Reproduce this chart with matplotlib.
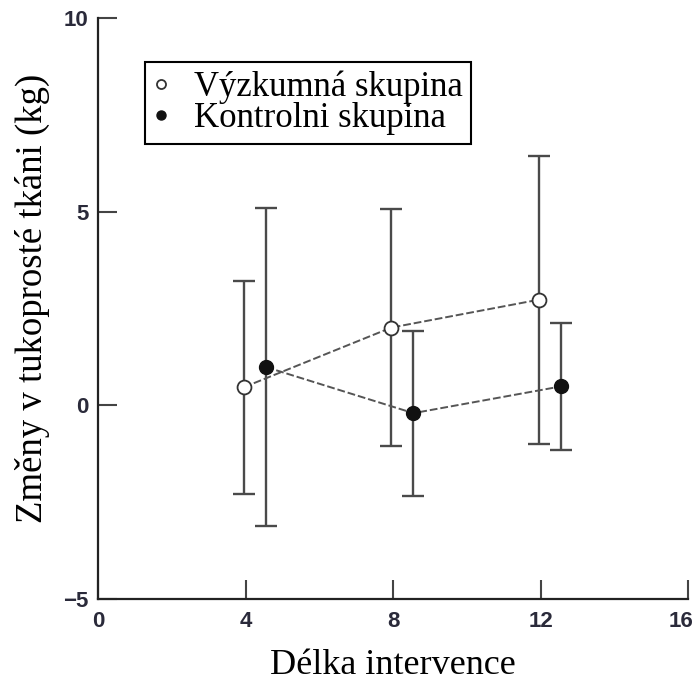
import numpy as np
import matplotlib
matplotlib.use('Agg')
import matplotlib.pyplot as plt
from matplotlib.transforms import ScaledTranslation

# values
weeks = [4, 8, 12]
shift = 0.5  # the control group is drawn a bit to the right
vyzkumna_mean = [0.47, 2.01, 2.73]
vyzkumna_err = [2.75, 3.07, 3.72]
kontrolni_mean = [0.99, -0.20, 0.49]
kontrolni_err = [4.10, 2.13, 1.65]
xticks = [0, 4, 8, 12, 16]
yticks = [-5, 0, 5, 10]
labels = ['Výzkumná skupina', 'Kontrolni skupina']

SERIF = ['Liberation Serif', 'DejaVu Serif']
SANS = ['Liberation Sans', 'DejaVu Sans']
plt.rcParams['font.family'] = SERIF

fig = plt.figure(figsize=(6.99, 6.84), dpi=100)
ax = fig.add_axes([0.1406, 0.1243, 0.8437, 0.849])

x_v = np.array(weeks) - 0.05
x_k = np.array(weeks) + shift + 0.05

# error bars first, then the dashed links, markers on top
for xx, yy, ee in ((x_v, vyzkumna_mean, vyzkumna_err), (x_k, kontrolni_mean, kontrolni_err)):
    ax.errorbar(xx, yy, yerr=ee, fmt='none', ecolor='#4a4a4a', elinewidth=1.7,
                capsize=8, capthick=1.7, zorder=2)
    ax.plot(xx, yy, linestyle=(0, (4, 1.5)), color='#555555', lw=1.4, zorder=3)

ax.plot(x_v, vyzkumna_mean, 'o', ms=10, mfc='white', mec='#333333', mew=1.3,
        ls='none', label=labels[0], zorder=4)
ax.plot(x_k, kontrolni_mean, 'o', ms=10, mfc='#111111', mec='#111111', mew=1.0,
        ls='none', label=labels[1], zorder=4)

ax.set_xlim(0, 16)
ax.set_ylim(-5, 10)
ax.set_xticks(xticks)
ax.set_yticks(yticks)
ax.set_yticklabels(['\u22125' if t < 0 else str(t) for t in yticks])
for s in ('top', 'right'):
    ax.spines[s].set_visible(False)
for s in ('left', 'bottom'):
    ax.spines[s].set_linewidth(1.6)
    ax.spines[s].set_color('#222222')
ax.tick_params(direction='in', length=14, width=1.5, color='#444444')
ax.tick_params(axis='y', pad=7)
ax.tick_params(axis='x', pad=9)
for t in ax.get_xticklabels() + ax.get_yticklabels():
    t.set_family(SANS)
    t.set_fontsize(16)
    t.set_fontweight('bold')
    t.set_color('#2a2a3a')
# last x label sits right at the figure edge, nudge it in a little
last = ax.get_xticklabels()[-1]
last.set_transform(last.get_transform() + ScaledTranslation(-5 / 72, 0, fig.dpi_scale_trans))

ax.set_xlabel('Délka intervence', fontsize=26, labelpad=12)
ax.set_ylabel('Změny v tukoprosté tkáni (kg)', fontsize=26.5)
ax.yaxis.set_label_coords(-0.082, 0.518)

leg = ax.legend(loc='upper left', bbox_to_anchor=(145 / 699, 1 - 62 / 684),
                bbox_transform=fig.transFigure, fontsize=25, markerscale=0.65,
                handlelength=0.4, handletextpad=0.75, borderpad=0.25,
                labelspacing=-0.05, borderaxespad=0, fancybox=False,
                framealpha=1, edgecolor='black')
leg.get_frame().set_linewidth(1.5)

fig.savefig('out.png', dpi=100)
